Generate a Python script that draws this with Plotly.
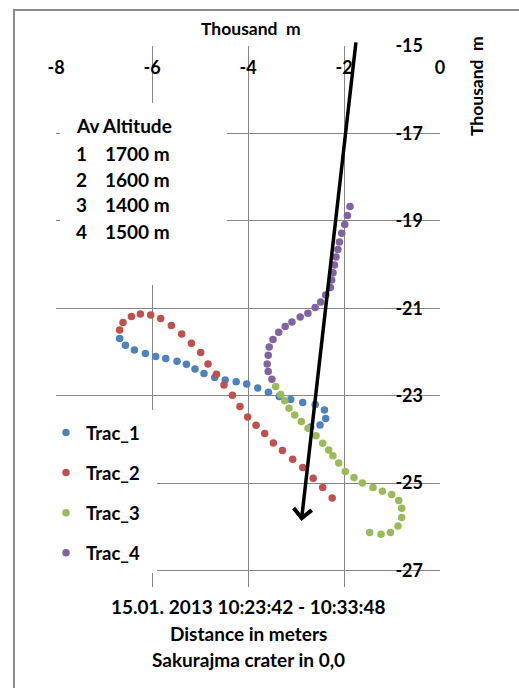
import plotly.graph_objects as go

# ---------------- data (thousand m) ----------------
trac1_x = [-6.673, -6.554, -6.367, -6.138, -5.923, -5.715, -5.479, -5.283, -5.104, -4.917,
           -4.694, -4.475, -4.246, -4.027, -3.798, -3.575, -3.350, -3.110, -2.860, -2.600,
           -2.408, -2.381, -2.500, -2.694]
trac1_y = [-21.696, -21.847, -21.954, -22.039, -22.108, -22.153, -22.213, -22.281, -22.389, -22.492,
           -22.584, -22.641, -22.686, -22.732, -22.824, -22.922, -23.018, -23.087, -23.160, -23.206,
           -23.332, -23.526, -23.675, -23.716]

trac2_x = [-6.673, -6.604, -6.429, -6.242, -6.027, -5.819, -5.596, -5.381, -5.179, -4.985,
           -4.833, -4.658, -4.500, -4.325, -4.167, -4.006, -3.833, -3.652, -3.471, -3.283,
           -3.069, -2.860, -2.642, -2.444, -2.246]
trac2_y = [-21.497, -21.330, -21.192, -21.130, -21.153, -21.238, -21.398, -21.588, -21.801, -22.016,
           -22.275, -22.510, -22.755, -22.991, -23.252, -23.487, -23.677, -23.870, -24.082, -24.259,
           -24.455, -24.648, -24.890, -25.105, -25.341]

trac3_x = [-3.423, -3.319, -3.235, -3.146, -3.027, -2.888, -2.750, -2.583, -2.444, -2.319,
           -2.231, -2.110, -1.973, -1.792, -1.617, -1.396, -1.200, -1.006, -0.860, -0.798,
           -0.798, -0.875, -1.033, -1.229, -1.465]
trac3_y = [-22.794, -22.973, -23.117, -23.288, -23.442, -23.595, -23.746, -23.918, -24.089, -24.243,
           -24.375, -24.545, -24.735, -24.876, -24.998, -25.105, -25.188, -25.265, -25.403, -25.577,
           -25.792, -25.982, -26.135, -26.172, -26.135]

trac4_x = [-1.875, -1.929, -1.985, -2.048, -2.096, -2.127, -2.167, -2.200, -2.229, -2.256,
           -2.283, -2.381, -2.485, -2.600, -2.752, -2.913, -3.085, -3.225, -3.360, -3.479,
           -3.558, -3.579, -3.600, -3.579, -3.502]
trac4_y = [-18.675, -18.876, -19.087, -19.284, -19.483, -19.654, -19.826, -20.014, -20.188, -20.357,
           -20.524, -20.696, -20.856, -20.982, -21.114, -21.204, -21.313, -21.416, -21.549, -21.714,
           -21.890, -22.076, -22.275, -22.451, -22.625]

series_names = ["Trac_1", "Trac_2", "Trac_3", "Trac_4"]
series_x = [trac1_x, trac2_x, trac3_x, trac4_x]
series_y = [trac1_y, trac2_y, trac3_y, trac4_y]
series_colors = ["#4F81BD", "#C0504D", "#9BBB59", "#8064A2"]

x_ticks = [-8, -6, -4, -2, 0]
y_ticks = [-15, -17, -19, -21, -23, -25, -27]

altitude_ids = ["1", "2", "3", "4"]
altitude_vals = ["1700 m", "1600 m", "1400 m", "1500 m"]

# wind/drift arrow (start -> end), thousand m
arrow_start = (-1.748, -14.883)
arrow_end = (-2.888, -25.867)

FONT = "Lato"
GRID = "#868686"

fig = go.Figure()
for i, (name, xs, ys, c) in enumerate(zip(series_names, series_x, series_y, series_colors)):
    fig.add_trace(go.Scatter(
        x=xs, y=ys, mode="markers", name=name, legendgroup=name,
        marker=dict(color=c, size=7.5, line=dict(width=0)),
    ))

W, H = 519, 688
L, R, T, B = 56, 79, 46, 101
pw, ph = W - L - R, H - T - B


def px(xp):
    return (xp - L) / pw


def py(yp):
    return 1 - (yp - T) / ph


fig.update_layout(
    width=W, height=H,
    margin=dict(l=L, r=R, t=T, b=B, pad=0),
    paper_bgcolor="white", plot_bgcolor="white",
    font=dict(family=FONT, color="black", size=15),
    showlegend=True,
    legend=dict(
        x=px(46), y=py(414), xanchor="left", yanchor="top",
        bgcolor="rgba(0,0,0,0)", borderwidth=0,
        font=dict(family=FONT, size=18.5, color="black", weight="bold"),
        traceorder="grouped", tracegroupgap=13,
    ),
    xaxis=dict(
        range=[-8, 0], side="top", tickvals=x_ticks, ticktext=[str(v) for v in x_ticks],
        showgrid=True, gridcolor=GRID, gridwidth=1, zeroline=False, showline=False,
        ticks="", ticklabelposition="inside", ticklabeloverflow="allow",
        tickfont=dict(family=FONT, size=18, color="black", weight="bold"),
        ticklabelstandoff=12,
    ),
    yaxis=dict(
        range=[-27.38, -15], side="right", tickvals=y_ticks, ticktext=[str(v) for v in y_ticks],
        showgrid=True, gridcolor=GRID, gridwidth=1, zeroline=False, showline=False,
        ticks="", ticklabelposition="inside", ticklabeloverflow="allow",
        tickfont=dict(family=FONT, size=18, color="black", weight="bold"),
        ticklabelstandoff=14,
    ),
)

shapes = [
    # white text-box background hiding grid
    dict(type="rect", xref="paper", yref="paper", x0=px(60), x1=px(227), y0=py(285), y1=py(103),
         fillcolor="white", line=dict(width=0), layer="above"),
    # white legend background hiding grid
    dict(type="rect", xref="paper", yref="paper", x0=px(50), x1=px(157), y0=py(573), y1=py(410),
         fillcolor="white", line=dict(width=0), layer="above"),
    # outer chart border (clipped by the page)
    dict(type="rect", xref="paper", yref="paper", x0=px(14), x1=px(600), y0=py(760), y1=py(10),
         fillcolor="rgba(0,0,0,0)", line=dict(color="#8c8c8c", width=2), layer="below"),
]
fig.update_layout(shapes=shapes)

ann = []
bold = dict(family=FONT, size=19, color="black", weight="bold")
ann.append(dict(xref="paper", yref="paper", x=px(74), y=py(126), xanchor="left", yanchor="middle",
                text="Av Altitude", showarrow=False, font=bold))
for i, (k, v) in enumerate(zip(altitude_ids, altitude_vals)):
    yy = py(153 + 26 * i)
    ann.append(dict(xref="paper", yref="paper", x=px(74), y=yy, xanchor="left", yanchor="middle",
                    text=k, showarrow=False, font=bold))
    ann.append(dict(xref="paper", yref="paper", x=px(103), y=yy, xanchor="left", yanchor="middle",
                    text=v, showarrow=False, font=bold))

for txt, yp in [("15.01. 2013 10:23:42 - 10:33:48", 606), ("Distance in meters", 633),
                ("Sakurajma crater in 0,0", 659)]:
    ann.append(dict(xref="paper", yref="paper", x=0.5, y=py(yp), xanchor="center", yanchor="middle",
                    text=txt, showarrow=False, font=bold))

title_font = dict(family=FONT, size=17.5, color="black", weight="bold")
ann.append(dict(xref="paper", yref="paper", x=px(251), y=py(28), xanchor="center", yanchor="middle",
                text="Thousand  m", showarrow=False, font=title_font))
ann.append(dict(xref="paper", yref="paper", x=px(476), y=py(86), xanchor="center", yanchor="middle",
                text="Thousand  m", textangle=-90, showarrow=False, font=title_font))

ann.append(dict(x=arrow_end[0], y=arrow_end[1], ax=arrow_start[0], ay=arrow_start[1],
                xref="x", yref="y", axref="x", ayref="y", text="", showarrow=True,
                arrowhead=4, arrowsize=1, arrowwidth=3.5, arrowcolor="black", standoff=0))
fig.update_layout(annotations=ann)

fig.write_html("out.html")
